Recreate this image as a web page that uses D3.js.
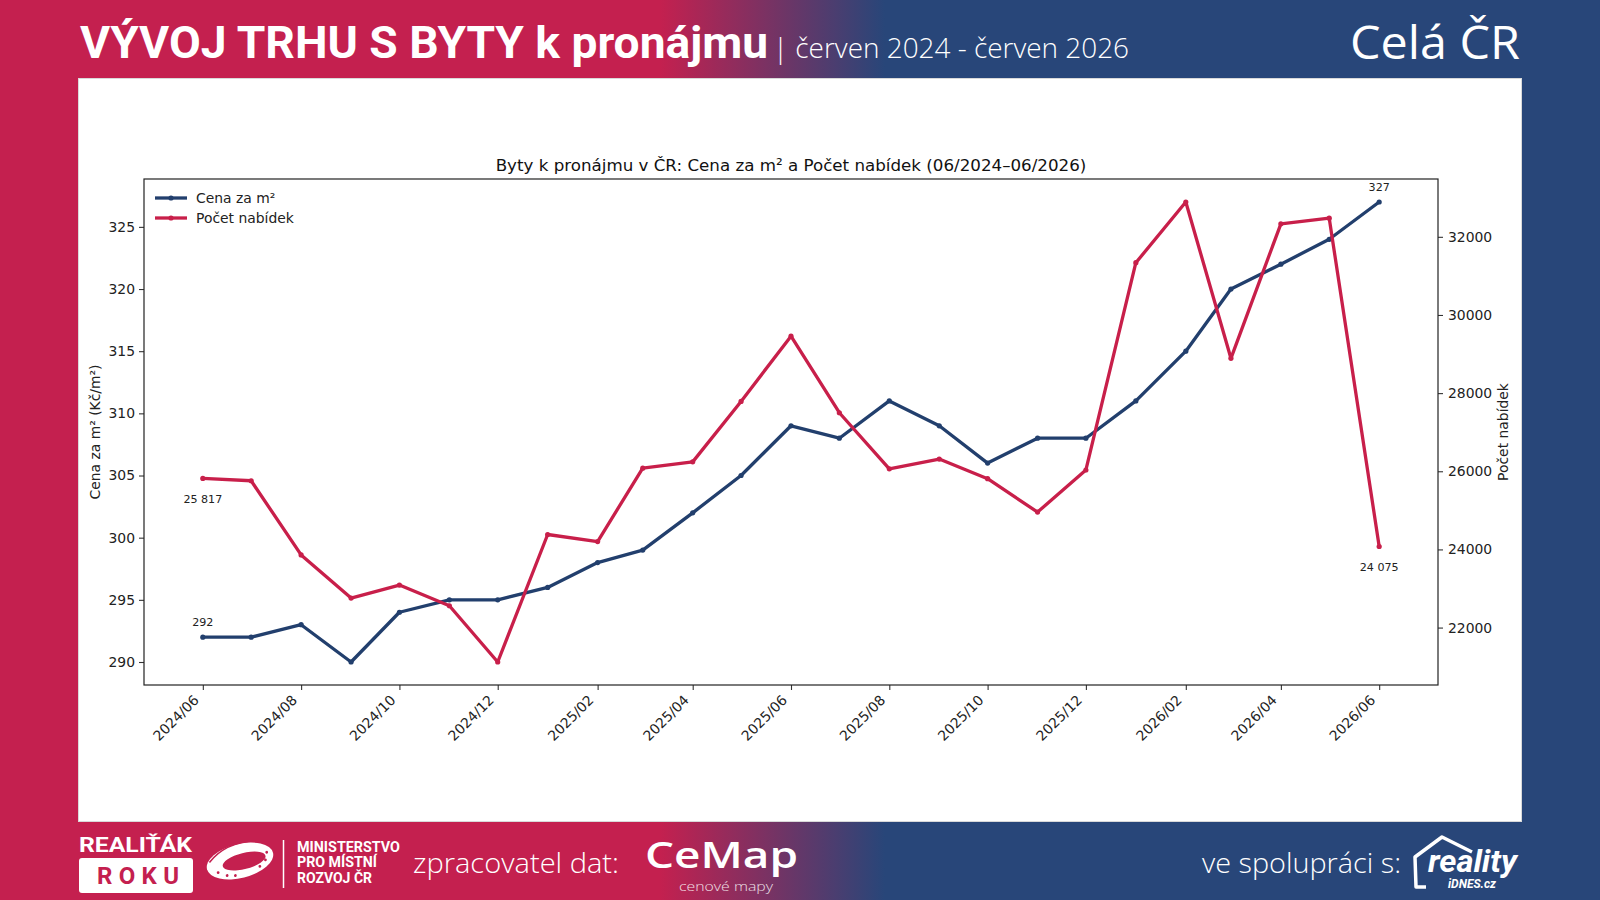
<!DOCTYPE html>
<html>
<head>
<meta charset="utf-8">
<script src="https://cdn.jsdelivr.net/npm/d3@7"></script>
<style>
  html, body { margin: 0; padding: 0; background: #fff; overflow: hidden; }
  svg { display: block; }
</style>
</head>
<body>
<svg id="page" width="1600" height="900"></svg>
<script>
// monthly data 06/2024 - 06/2026
const months = ["2024-06","2024-07","2024-08","2024-09","2024-10","2024-11","2024-12",
  "2025-01","2025-02","2025-03","2025-04","2025-05","2025-06","2025-07","2025-08","2025-09","2025-10","2025-11","2025-12",
  "2026-01","2026-02","2026-03","2026-04","2026-05","2026-06"];
const cena = [292,292,293,290,294,295,295, 296,298,299,302,305,309,308,311,309,306,308,308, 311,315,320,322,324,327];
const pocet = [25817,25757,23859,22755,23088,22558,21119, 24382,24202,26079,26241,27787,29457,27498,26062,26312,25810,24955,26033, 31337,32891,28891,32333,32476,24075];

const xTickLabels = ["2024/06","2024/08","2024/10","2024/12","2025/02","2025/04","2025/06","2025/08","2025/10","2025/12","2026/02","2026/04","2026/06"];
const leftTicks = [290,295,300,305,310,315,320,325];
const rightTicks = [22000,24000,26000,28000,30000,32000];
const seriesNames = ["Cena za m²","Počet nabídek"];

const BLUE = "#223F6D";
const RED = "#C81F4A";
const CRIMSON = "#C4204F";
const NAVY = "#284679";
const MPL = "DejaVu Sans, sans-serif";
const FS = "13.9px";

const svg = d3.select("#page");

// background gradient
const defs = svg.append("defs");
const grad = defs.append("linearGradient")
  .attr("id", "bg").attr("gradientUnits", "userSpaceOnUse")
  .attr("x1", 0).attr("x2", 1600).attr("y1", 0).attr("y2", 0);
grad.append("stop").attr("offset", 0).attr("stop-color", CRIMSON);
grad.append("stop").attr("offset", 660 / 1600).attr("stop-color", CRIMSON);
grad.append("stop").attr("offset", 885 / 1600).attr("stop-color", NAVY);
grad.append("stop").attr("offset", 1).attr("stop-color", NAVY);

svg.append("rect").attr("width", 1600).attr("height", 900).attr("fill", "url(#bg)");
svg.append("rect")
  .attr("x", 78.5).attr("y", 78.5).attr("width", 1443).attr("height", 743)
  .attr("fill", "#fff").attr("stroke", "#d9d9d9").attr("stroke-width", 1);

// header
svg.append("text")
  .attr("x", 80).attr("y", 58)
  .attr("textLength", 688).attr("lengthAdjust", "spacingAndGlyphs")
  .style("font-family", "Roboto, sans-serif").style("font-weight", 700)
  .style("font-size", "44px").style("fill", "#fff")
  .text("VÝVOJ TRHU S BYTY k pronájmu");
svg.append("text")
  .attr("x", 773).attr("y", 57.5)
  .attr("textLength", 356).attr("lengthAdjust", "spacingAndGlyphs")
  .style("font-family", "'Open Sans', sans-serif").style("font-weight", 300)
  .style("font-size", "27px").style("fill", "#fff")
  .text("| červen 2024 - červen 2026");
svg.append("text")
  .attr("x", 1350).attr("y", 59)
  .attr("textLength", 170).attr("lengthAdjust", "spacingAndGlyphs")
  .style("font-family", "'Open Sans', sans-serif").style("font-weight", 400)
  .style("font-size", "45px").style("fill", "#fff")
  .text("Celá ČR");

// ---- chart ----
const axLeft = 144, axRight = 1438, axTop = 179, axBottom = 685;
const parse = d3.timeParse("%Y-%m");
const dates = months.map(parse);

function padded(ext) {
  const span = ext[1] - ext[0];
  return [ext[0] - span * 0.05, ext[1] + span * 0.05];
}

const tExt = d3.extent(dates).map(d => +d);
const x = d3.scaleTime()
  .domain(padded(tExt).map(v => new Date(v)))
  .range([axLeft, axRight]);
const yL = d3.scaleLinear().domain(padded(d3.extent(cena))).range([axBottom, axTop]);
const yR = d3.scaleLinear().domain(padded(d3.extent(pocet))).range([axBottom, axTop]);

const chart = svg.append("g").style("font-family", MPL);

chart.append("text")
  .attr("x", (axLeft + axRight) / 2).attr("y", 171)
  .attr("text-anchor", "middle")
  .style("font-size", "16.7px").style("fill", "#111")
  .text("Byty k pronájmu v ČR: Cena za m² a Počet nabídek (06/2024–06/2026)");

// axes
const axL = chart.append("g").attr("transform", `translate(${axLeft},0)`)
  .call(d3.axisLeft(yL).tickValues(leftTicks).tickSize(5).tickPadding(4).tickFormat(d3.format("d")));
const axR = chart.append("g").attr("transform", `translate(${axRight},0)`)
  .call(d3.axisRight(yR).tickValues(rightTicks).tickSize(5).tickPadding(5).tickFormat(d3.format("d")));
const xTickDates = xTickLabels.map(d3.timeParse("%Y/%m"));
const axB = chart.append("g").attr("transform", `translate(0,${axBottom})`)
  .call(d3.axisBottom(x).tickValues(xTickDates).tickSize(5).tickFormat(""));

[axL, axR, axB].forEach(a => {
  a.select(".domain").remove();
  a.selectAll(".tick line").attr("stroke", "#333").attr("stroke-width", 1.1);
  a.selectAll("text").style("font-family", MPL).style("font-size", FS).attr("fill", "#222");
});

xTickDates.forEach((d, i) => {
  chart.append("text")
    .attr("transform", `translate(${x(d) - 3},${axBottom + 16}) rotate(-45)`)
    .attr("text-anchor", "end")
    .style("font-size", FS).style("fill", "#222")
    .text(xTickLabels[i]);
});

chart.append("text")
  .attr("transform", `translate(95,${(axTop + axBottom) / 2}) rotate(-90)`)
  .attr("text-anchor", "middle").attr("dy", "0.35em")
  .style("font-size", FS).style("fill", "#222")
  .text("Cena za m² (Kč/m²)");
chart.append("text")
  .attr("transform", `translate(1503,${(axTop + axBottom) / 2}) rotate(-90)`)
  .attr("text-anchor", "middle").attr("dy", "0.35em")
  .style("font-size", FS).style("fill", "#222")
  .text("Počet nabídek");

// lines
const lineL = d3.line().x((d, i) => x(dates[i])).y(d => yL(d));
const lineR = d3.line().x((d, i) => x(dates[i])).y(d => yR(d));

chart.append("path").datum(cena).attr("d", lineL)
  .attr("fill", "none").attr("stroke", BLUE).attr("stroke-width", 3.3).attr("stroke-linejoin", "round");
chart.append("g").selectAll("circle").data(cena).join("circle")
  .attr("cx", (d, i) => x(dates[i])).attr("cy", d => yL(d)).attr("r", 2.6).attr("fill", BLUE);

chart.append("path").datum(pocet).attr("d", lineR)
  .attr("fill", "none").attr("stroke", RED).attr("stroke-width", 3.3).attr("stroke-linejoin", "round");
chart.append("g").selectAll("circle").data(pocet).join("circle")
  .attr("cx", (d, i) => x(dates[i])).attr("cy", d => yR(d)).attr("r", 2.6).attr("fill", RED);

// frame
chart.append("rect")
  .attr("x", axLeft).attr("y", axTop).attr("width", axRight - axLeft).attr("height", axBottom - axTop)
  .attr("fill", "none").attr("stroke", "#222").attr("stroke-width", 1.2);

// first / last annotations
const fmt = v => d3.format(",")(v).replace(/,/g, " ");
const last = dates.length - 1;
const notes = [
  {x: x(dates[0]), y: yL(cena[0]) - 11, t: fmt(cena[0])},
  {x: x(dates[last]), y: yL(cena[last]) - 11, t: fmt(cena[last])},
  {x: x(dates[0]), y: yR(pocet[0]) + 25, t: fmt(pocet[0])},
  {x: x(dates[last]), y: yR(pocet[last]) + 25, t: fmt(pocet[last])}
];
chart.append("g").selectAll("text").data(notes).join("text")
  .attr("x", d => d.x).attr("y", d => d.y)
  .attr("text-anchor", "middle")
  .style("font-size", "11.1px").style("fill", "#222")
  .text(d => d.t);

// legend
const legend = chart.append("g");
[BLUE, RED].forEach((c, i) => {
  const ly = 198 + i * 20;
  legend.append("line").attr("x1", 155).attr("x2", 187).attr("y1", ly).attr("y2", ly)
    .attr("stroke", c).attr("stroke-width", 3.3);
  legend.append("circle").attr("cx", 171).attr("cy", ly).attr("r", 2.6).attr("fill", c);
  legend.append("text").attr("x", 196).attr("y", ly).attr("dy", "0.35em")
    .style("font-size", FS).style("fill", "#222")
    .text(seriesNames[i]);
});

// ---- footer ----
const foot = svg.append("g");
foot.append("text")
  .attr("x", 79).attr("y", 852).attr("textLength", 113).attr("lengthAdjust", "spacingAndGlyphs")
  .style("font-family", "Roboto, sans-serif").style("font-weight", 700)
  .style("font-size", "21px").style("fill", "#fff").text("REALIŤÁK");
foot.append("rect")
  .attr("x", 79).attr("y", 858).attr("width", 114).attr("height", 35).attr("rx", 3)
  .attr("fill", "#fff");
foot.append("text")
  .attr("x", 97).attr("y", 884).attr("textLength", 82).attr("lengthAdjust", "spacing")
  .style("font-family", "Roboto, sans-serif").style("font-weight", 700)
  .style("font-size", "24px").style("fill", CRIMSON).text("ROKU");

// ministry swirl
const sw = foot.append("g").attr("transform", "translate(240,861) rotate(-14)");
sw.append("ellipse").attr("rx", 34).attr("ry", 17).attr("fill", "#fff");
sw.append("ellipse").attr("cx", 4).attr("cy", 1).attr("rx", 22).attr("ry", 8).attr("fill", CRIMSON);
sw.append("path").attr("d", "M-30,-6 Q-10,-22 20,-16").attr("stroke", CRIMSON).attr("stroke-width", 1.5).attr("fill", "none");
[[-24, 6], [-16, 11], [-8, 13], [18, 10], [25, 5], [28, -2]].forEach(p => {
  sw.append("circle").attr("cx", p[0]).attr("cy", p[1]).attr("r", 1.4).attr("fill", CRIMSON);
});
foot.append("line").attr("x1", 283.5).attr("x2", 283.5).attr("y1", 840).attr("y2", 888)
  .attr("stroke", "#fff").attr("stroke-width", 1.5);
["MINISTERSTVO", "PRO MÍSTNÍ", "ROZVOJ ČR"].forEach((t, i) => {
  foot.append("text")
    .attr("x", 297).attr("y", 852 + i * 15.3)
    .attr("textLength", i === 0 ? 103 : (i === 1 ? 80 : 75)).attr("lengthAdjust", "spacingAndGlyphs")
    .style("font-family", "Roboto, sans-serif").style("font-weight", 700)
    .style("font-size", "14px").style("fill", "#fff").text(t);
});

foot.append("text")
  .attr("x", 413).attr("y", 873).attr("textLength", 206).attr("lengthAdjust", "spacingAndGlyphs")
  .style("font-family", "'Open Sans', sans-serif").style("font-weight", 300)
  .style("font-size", "27px").style("fill", "#fff").text("zpracovatel dat:");

foot.append("text")
  .attr("x", 645).attr("y", 868).attr("textLength", 153).attr("lengthAdjust", "spacingAndGlyphs")
  .style("font-family", "'Open Sans', sans-serif").style("font-weight", 600)
  .style("font-size", "36px").style("fill", "#fff").text("CeMap");
foot.append("text")
  .attr("x", 679).attr("y", 891).attr("textLength", 94).attr("lengthAdjust", "spacingAndGlyphs")
  .style("font-family", "'Open Sans', sans-serif").style("font-weight", 300)
  .style("font-size", "13px").style("fill", "#fff").style("opacity", 0.85).text("cenové mapy");

foot.append("text")
  .attr("x", 1202).attr("y", 873).attr("textLength", 199).attr("lengthAdjust", "spacingAndGlyphs")
  .style("font-family", "'Open Sans', sans-serif").style("font-weight", 300)
  .style("font-size", "27px").style("fill", "#fff").text("ve spolupráci s:");

// reality.idnes logo
foot.append("path")
  .attr("d", "M1426,887 L1416,887 L1415,857 L1442,837 L1472,852")
  .attr("fill", "none").attr("stroke", "#fff").attr("stroke-width", 3.5).attr("stroke-linejoin", "round");
foot.append("text")
  .attr("x", 1428).attr("y", 872).attr("textLength", 89).attr("lengthAdjust", "spacingAndGlyphs")
  .style("font-family", "Roboto, sans-serif").style("font-weight", 700).style("font-style", "italic")
  .style("font-size", "31px").style("fill", "#fff").text("reality");
foot.append("text")
  .attr("x", 1448).attr("y", 888).attr("textLength", 48).attr("lengthAdjust", "spacingAndGlyphs")
  .style("font-family", "Roboto, sans-serif").style("font-weight", 700).style("font-style", "italic")
  .style("font-size", "12px").style("fill", "#fff").text("iDNES.cz");
</script>
</body>
</html>
